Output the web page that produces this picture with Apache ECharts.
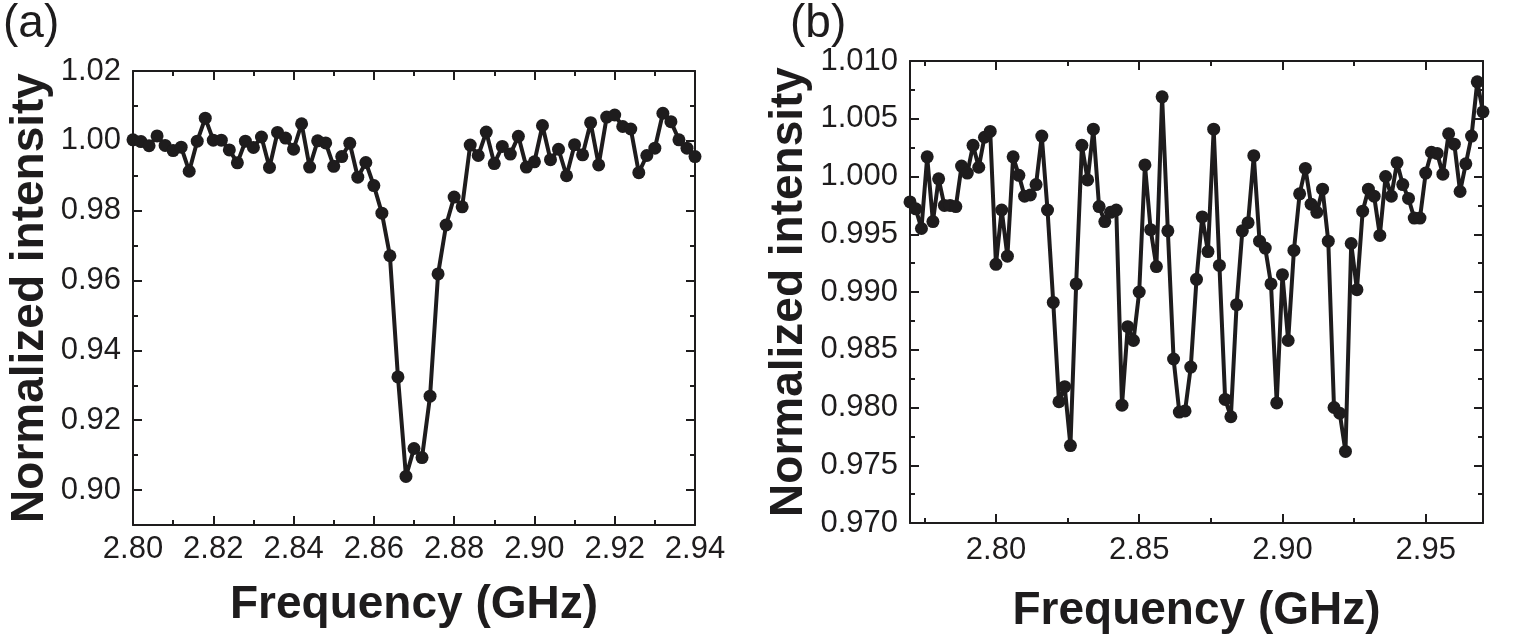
<!DOCTYPE html>
<html>
<head>
<meta charset="utf-8">
<script src="https://cdn.jsdelivr.net/npm/echarts@6/dist/echarts.min.js"></script>
<style>
  html, body { margin: 0; padding: 0; background: #fff; }
  #chart { width: 1536px; height: 640px; }
</style>
</head>
<body>
<div id="chart"></div>
<script>
// panel (a): single dip
var freqA = [2.800, 2.802, 2.804, 2.806, 2.808, 2.810, 2.812, 2.814, 2.816, 2.818,
  2.820, 2.822, 2.824, 2.826, 2.828, 2.830, 2.832, 2.834, 2.836, 2.838,
  2.840, 2.842, 2.844, 2.846, 2.848, 2.850, 2.852, 2.854, 2.856, 2.858,
  2.860, 2.862, 2.864, 2.866, 2.868, 2.870, 2.872, 2.874, 2.876, 2.878,
  2.880, 2.882, 2.884, 2.886, 2.888, 2.890, 2.892, 2.894, 2.896, 2.898,
  2.900, 2.902, 2.904, 2.906, 2.908, 2.910, 2.912, 2.914, 2.916, 2.918,
  2.920, 2.922, 2.924, 2.926, 2.928, 2.930, 2.932, 2.934, 2.936, 2.938, 2.940];
var intensityA = [1.0003, 0.9998, 0.9986, 1.0014, 0.9987, 0.9972, 0.9982, 0.9913, 0.9999, 1.0065,
  1.0002, 1.0002, 0.9974, 0.9937, 0.9999, 0.9981, 1.0011, 0.9924, 1.0024, 1.0008,
  0.9976, 1.0049, 0.9925, 1.0000, 0.9994, 0.9927, 0.9955, 0.9993, 0.9896, 0.9938,
  0.9872, 0.9793, 0.9671, 0.9324, 0.9039, 0.9119, 0.9093, 0.9269, 0.9619, 0.9759,
  0.9839, 0.9811, 0.9988, 0.9958, 1.0025, 0.9935, 0.9984, 0.9962, 1.0013, 0.9925,
  0.9940, 1.0044, 0.9946, 0.9976, 0.9900, 0.9989, 0.9960, 1.0052, 0.9931, 1.0068,
  1.0074, 1.0041, 1.0034, 0.9909, 0.9958, 0.9979, 1.0079, 1.0055, 1.0003, 0.9979, 0.9955];

// panel (b): many dips
var freqB = [2.770, 2.772, 2.774, 2.776, 2.778, 2.780, 2.782, 2.784, 2.786, 2.788,
  2.790, 2.792, 2.794, 2.796, 2.798, 2.800, 2.802, 2.804, 2.806, 2.808,
  2.810, 2.812, 2.814, 2.816, 2.818, 2.820, 2.822, 2.824, 2.826, 2.828,
  2.830, 2.832, 2.834, 2.836, 2.838, 2.840, 2.842, 2.844, 2.846, 2.848,
  2.850, 2.852, 2.854, 2.856, 2.858, 2.860, 2.862, 2.864, 2.866, 2.868,
  2.870, 2.872, 2.874, 2.876, 2.878, 2.880, 2.882, 2.884, 2.886, 2.888,
  2.890, 2.892, 2.894, 2.896, 2.898, 2.900, 2.902, 2.904, 2.906, 2.908,
  2.910, 2.912, 2.914, 2.916, 2.918, 2.920, 2.922, 2.924, 2.926, 2.928,
  2.930, 2.932, 2.934, 2.936, 2.938, 2.940, 2.942, 2.944, 2.946, 2.948,
  2.950, 2.952, 2.954, 2.956, 2.958, 2.960, 2.962, 2.964, 2.966, 2.968, 2.970];
var intensityB = [0.9978, 0.9972, 0.9955, 1.0017, 0.9961, 0.9998, 0.9975, 0.9975, 0.9974, 1.0009,
  1.0003, 1.0027, 1.0008, 1.0034, 1.0039, 0.9924, 0.9971, 0.9931, 1.0017, 1.0001,
  0.9983, 0.9984, 0.9993, 1.0035, 0.9971, 0.9891, 0.9805, 0.9818, 0.9767, 0.9907,
  1.0027, 0.9997, 1.0041, 0.9974, 0.9961, 0.9969, 0.9971, 0.9802, 0.9870, 0.9858,
  0.9900, 1.0010, 0.9954, 0.9922, 1.0069, 0.9953, 0.9842, 0.9796, 0.9797, 0.9835,
  0.9911, 0.9965, 0.9935, 1.0041, 0.9923, 0.9807, 0.9792, 0.9889, 0.9953, 0.9960,
  1.0018, 0.9944, 0.9938, 0.9907, 0.9804, 0.9915, 0.9858, 0.9936, 0.9985, 1.0007,
  0.9976, 0.9969, 0.9989, 0.9944, 0.9800, 0.9795, 0.9762, 0.9942, 0.9902, 0.9970,
  0.9989, 0.9983, 0.9949, 1.0000, 0.9983, 1.0012, 0.9993, 0.9981, 0.9964, 0.9964,
  1.0003, 1.0021, 1.0020, 1.0002, 1.0037, 1.0028, 0.9987, 1.0011, 1.0035, 1.0082, 1.0056];

// ticks
var xMajorA = [2.80, 2.82, 2.84, 2.86, 2.88, 2.90, 2.92, 2.94];
var xMinorA = [2.81, 2.83, 2.85, 2.87, 2.89, 2.91, 2.93];
var yMajorA = [0.90, 0.92, 0.94, 0.96, 0.98, 1.00, 1.02];
var yMinorA = [0.89, 0.91, 0.93, 0.95, 0.97, 0.99, 1.01];
var xMajorB = [2.80, 2.85, 2.90, 2.95];
var xMinorB = [2.775, 2.825, 2.875, 2.925];
var yMajorB = [0.970, 0.975, 0.980, 0.985, 0.990, 0.995, 1.000, 1.005, 1.010];
var yMinorB = [0.9725, 0.9775, 0.9825, 0.9875, 0.9925, 0.9975, 1.0025, 1.0075];

var INK = '#1e1c1d';
var FONT = 'Liberation Sans';

// one side of the box: major ticks (with line) + minor ticks (no line)
function boxAxes(grid, min, max, majors, minors, digits, labelMargin, name, nameGap, isX) {
    var mainPos = isX ? 'bottom' : 'left';
    var otherPos = isX ? 'top' : 'right';
    var list = [];
    [mainPos, otherPos].forEach(function(pos){
        var main = pos == mainPos;
        list.push({
            type: 'value', gridIndex: grid, position: pos, min: min, max: max,
            axisLine: { show: true, lineStyle: { color: INK, width: 2 } },
            axisTick: { show: true, inside: true, length: 9, customValues: majors, lineStyle: { color: INK, width: 2 } },
            axisLabel: main ? {
                show: true, customValues: majors, margin: labelMargin,
                color: INK, fontSize: 31, fontFamily: FONT,
                formatter: function(v){ return v.toFixed(digits); }
            } : { show: false },
            splitLine: { show: false },
            name: main ? name : '',
            nameLocation: 'middle',
            nameGap: nameGap,
            nameTextStyle: { color: INK, fontSize: 46, fontWeight: 'bold', fontFamily: FONT }
        });
        list.push({
            type: 'value', gridIndex: grid, position: pos, min: min, max: max,
            axisLine: { show: false },
            axisTick: { show: true, inside: true, length: 5, customValues: minors, lineStyle: { color: INK, width: 2 } },
            axisLabel: { show: false },
            splitLine: { show: false }
        });
    });
    return list;
}

function pairs(xs, ys){
    return xs.map(function(x, i){ return [x, ys[i]]; });
}

var xAxes = boxAxes(0, 2.80, 2.94, xMajorA, xMinorA, 2, 9, 'Frequency (GHz)', 57, true)
    .concat(boxAxes(1, 2.77, 2.97, xMajorB, xMinorB, 2, 12, 'Frequency (GHz)', 65, true));
var yAxes = boxAxes(0, 0.89, 1.02, yMajorA, yMinorA, 2, 12, 'Normalized intensity', 80, false)
    .concat(boxAxes(1, 0.97, 1.01, yMajorB, yMinorB, 3, 12, 'Normalized intensity', 98, false));

var lineSeries = function(xIdx, yIdx, data){
    return {
        type: 'line', xAxisIndex: xIdx, yAxisIndex: yIdx, data: data,
        symbol: 'circle', symbolSize: 13, showAllSymbol: true,
        lineStyle: { color: INK, width: 4 },
        itemStyle: { color: INK },
        clip: true, silent: true
    };
};

var chart = echarts.init(document.getElementById('chart'));
chart.setOption({
    animation: false,
    backgroundColor: '#fff',
    title: [
        { text: '(a)', left: -2, top: -4, textStyle: { color: INK, fontSize: 46, fontWeight: 'normal', fontFamily: FONT } },
        { text: '(b)', left: 785, top: -4, textStyle: { color: INK, fontSize: 46, fontWeight: 'normal', fontFamily: FONT } }
    ],
    grid: [
        { left: 133, top: 71, width: 562, height: 454 },
        { left: 910, top: 61, width: 573, height: 462 }
    ],
    xAxis: xAxes,
    yAxis: yAxes,
    series: [
        lineSeries(0, 0, pairs(freqA, intensityA)),
        lineSeries(4, 4, pairs(freqB, intensityB))
    ]
});
</script>
</body>
</html>
